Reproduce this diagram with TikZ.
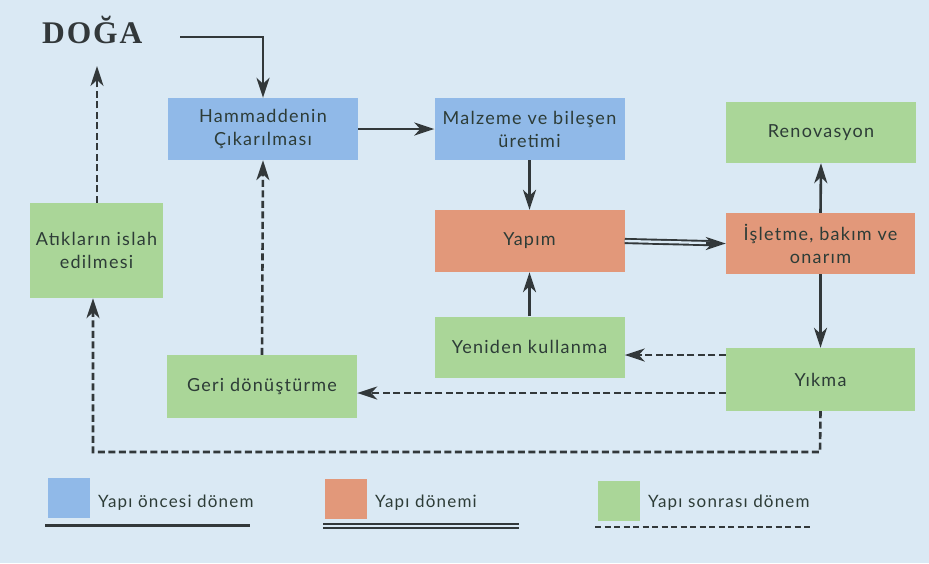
\documentclass[tikz,border=0pt]{standalone}
\usepackage{fontspec}
\setmainfont{Lato}
\newfontfamily\boxfont[LetterSpace=7]{Lato}
\newfontfamily\dogafont[LetterSpace=6]{Liberation Serif}
\usetikzlibrary{arrows.meta}
\definecolor{bg}{RGB}{218,233,244}
\definecolor{bluebox}{RGB}{144,185,232}
\definecolor{redbox}{RGB}{226,152,122}
\definecolor{greenbox}{RGB}{170,214,152}
\definecolor{ink}{RGB}{50,56,58}
\definecolor{txt}{RGB}{45,60,55}
\tikzset{
  box/.style={minimum width=190pt, minimum height=62pt, inner sep=0pt, align=center,
    text=txt, font=\boxfont\fontsize{18}{23}\selectfont},
  tip/.style={-{Stealth[length=20pt,width=13pt,inset=6pt]}},
  conn/.style={draw=ink, line width=2.6pt, tip},
  dconn/.style={conn, dash pattern=on 7pt off 3.5pt},
  dbl/.style={draw=ink, line width=1.9pt, double=bg, double distance=2.3pt},
  legsq/.style={minimum width=42pt, minimum height=40pt, inner sep=0pt},
  legtxt/.style={anchor=base west, inner sep=0pt, text=txt, font=\boxfont\fontsize{17}{20}\selectfont}
}
\begin{document}
\begin{tikzpicture}[x=1pt,y=-1pt]
\fill[bg] (0,0) rectangle (929,563);
\useasboundingbox (0,0) rectangle (929,563);

\node[anchor=base west, text=ink, inner sep=0pt, font=\dogafont\bfseries\fontsize{31.5}{32}\selectfont] (doga) at (42,43) {DOĞA};

\node[box, fill=bluebox] (ham) at (263,129) {Hammaddenin\\Çıkarılması};
\node[box, fill=bluebox] (malz) at (529.5,129) {Malzeme ve bileşen\\üretimi};
\node[box, fill=greenbox, minimum height=61pt] (reno) at (821,132.5) {Renovasyon};
\node[box, fill=redbox] (yapim) at (529.5,241) {Yapım};
\node[box, fill=redbox, minimum width=189pt, minimum height=61pt] (islet) at (820.5,243.5) {İşletme, bakım ve\\onarım};
\node[box, fill=greenbox, minimum width=133pt, minimum height=95pt] (atik) at (96.5,250.5) {Atıkların islah\\edilmesi};
\node[box, fill=greenbox, minimum height=61pt] (yeni) at (529.5,347) {Yeniden kullanma};
\node[box, fill=greenbox, minimum height=63pt] (geri) at (262,386.5) {Geri dönüştürme};
\node[box, fill=greenbox, minimum width=189pt, minimum height=63pt] (yikma) at (820.5,379.5) {Yıkma};

% connectors
\coordinate (dstart) at (180,37);
\coordinate (dtip) at (97,66);
\coordinate (lowR) at (820,452);
\coordinate (lowL) at (93,452);

\draw[conn] (dstart) -| (ham.north);
\draw[conn] (ham.east) -- (malz.west);
\draw[conn] (malz.south) -- (yapim.north);
\draw[dbl, shorten >=15pt] (yapim.east) -- (islet.west);
\draw[conn] ([xshift=-20pt]islet.west) -- (islet.west);
\draw[conn] (islet.north) -- (reno.south);
\draw[conn] (islet.south) -- (yikma.north);
\draw[conn] (yeni.north) -- (yapim.south);
\draw[dconn] (yikma.west |- 0,355) -- (yeni.east |- 0,355);
\draw[dconn] (yikma.west |- 0,393) -- (geri.east |- 0,393);
\draw[dconn] (yikma.south) -- (lowR) -- (lowL) -- (lowL |- atik.south);
\draw[dconn] (atik.north -| dtip) -- (dtip);
\draw[dconn] (geri.north) -- (ham.south);

% legend
\node[legsq, fill=bluebox] (l1) at (69,498) {};
\node[legtxt] (t1) at (98,507) {Yapı öncesi dönem};
\coordinate (a1) at (45,525);
\coordinate (b1) at (250,525);
\draw[draw=ink, line width=3pt] (a1) -- (b1);

\node[legsq, fill=redbox] (l2) at (346,499) {};
\node[legtxt] (t2) at (375,507) {Yapı dönemi};
\coordinate (a2) at (323,526);
\coordinate (b2) at (519,526);
\draw[dbl, line width=1.7pt, double distance=2.2pt] (a2) -- (b2);

\node[legsq, fill=greenbox] (l3) at (619,500.5) {};
\node[legtxt] (t3) at (648,507) {Yapı sonrası dönem};
\coordinate (a3) at (595,527);
\coordinate (b3) at (811,527);
\draw[draw=ink, line width=2.3pt, dash pattern=on 6pt off 3.5pt] (a3) -- (b3);
\end{tikzpicture}
\end{document}
